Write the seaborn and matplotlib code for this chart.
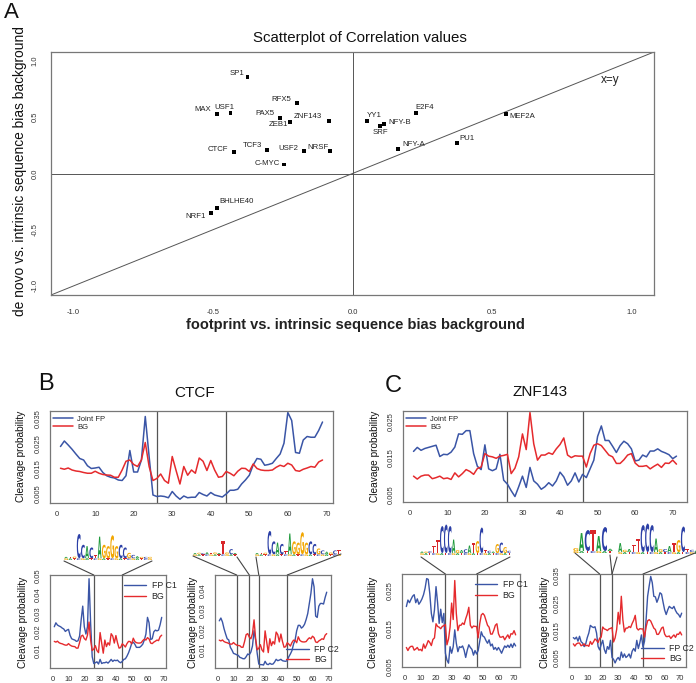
import numpy as np
import pandas as pd
import seaborn as sns
import matplotlib
matplotlib.use("Agg")
import matplotlib.pyplot as plt
import matplotlib.transforms as mtransforms
from matplotlib.textpath import TextPath
from matplotlib.patches import PathPatch
from matplotlib.font_manager import FontProperties
from matplotlib.lines import Line2D

# ---------------- data: panel A ----------------
TF_NAMES = ["SP1", "RFX5", "MAX", "USF1", "PAX5", "ZEB1", "ZNF143", "CTCF", "TCF3",
            "USF2", "NRSF", "C-MYC", "BHLHE40", "NRF1", "YY1", "SRF", "NFY-B", "E2F4",
            "NFY-A", "PU1", "MEF2A"]
FOOTPRINT_CORR = [-0.376, -0.198, -0.487, -0.437, -0.261, -0.223, -0.085, -0.424, -0.305,
                  -0.174, -0.081, -0.244, -0.487, -0.508, 0.051, 0.100, 0.114, 0.226,
                  0.162, 0.374, 0.549]
DENOVO_CORR = [0.857, 0.624, 0.529, 0.535, 0.493, 0.458, 0.467, 0.189, 0.213,
               0.200, 0.204, 0.080, -0.310, -0.350, 0.467, 0.422, 0.437, 0.535,
               0.216, 0.272, 0.529]

# ---------------- data: panels B / C ----------------
CTCF_JOINT_FP = [0.0237, 0.0259, 0.0243, 0.0226, 0.0207, 0.0189, 0.0183, 0.016, 0.0149, 0.0151,
                 0.0154, 0.0133, 0.012, 0.0114, 0.0111, 0.0103, 0.0101, 0.012, 0.0221, 0.0135,
                 0.0135, 0.0183, 0.0357, 0.0197, 0.0043, 0.0037, 0.0039, 0.0037, 0.0032, 0.0057,
                 0.0039, 0.0026, 0.0039, 0.0032, 0.0034, 0.0034, 0.0053, 0.0045, 0.0039, 0.0053,
                 0.0043, 0.0039, 0.0035, 0.0047, 0.0062, 0.0062, 0.0066, 0.0087, 0.0103, 0.0122,
                 0.0163, 0.0189, 0.0186, 0.0162, 0.0165, 0.017, 0.0189, 0.0207, 0.025, 0.0373,
                 0.0341, 0.0213, 0.021, 0.0263, 0.0277, 0.0274, 0.0274, 0.0301, 0.0335]
CTCF_BG = [0.015, 0.0146, 0.0151, 0.0143, 0.0139, 0.0137, 0.0133, 0.013, 0.013, 0.0138,
           0.013, 0.0125, 0.0123, 0.0122, 0.0114, 0.0114, 0.0143, 0.0178, 0.0183, 0.0165,
           0.0157, 0.0183, 0.0253, 0.0157, 0.0101, 0.0109, 0.0127, 0.0101, 0.009, 0.0197,
           0.0141, 0.0087, 0.0157, 0.0122, 0.0143, 0.013, 0.0191, 0.0178, 0.0141, 0.0181,
           0.0143, 0.0114, 0.0117, 0.0137, 0.013, 0.012, 0.0138, 0.015, 0.0149, 0.0137,
           0.0167, 0.0149, 0.0143, 0.0141, 0.0141, 0.0143, 0.0154, 0.0162, 0.0157, 0.017,
           0.0163, 0.0141, 0.0138, 0.0146, 0.0151, 0.0157, 0.0154, 0.0175, 0.0183]
CTCF_FP_C1 = [0.0228, 0.0249, 0.0237, 0.0232, 0.0228, 0.0221, 0.0216, 0.0203, 0.021, 0.0214,
              0.0182, 0.0164, 0.016, 0.0157, 0.015, 0.0153, 0.0178, 0.0264, 0.0338, 0.0228,
              0.0189, 0.0228, 0.0484, 0.0246, 0.0068, 0.0032, 0.0036, 0.0041, 0.0029, 0.0054,
              0.0032, 0.0036, 0.0036, 0.004, 0.0034, 0.0043, 0.0054, 0.0043, 0.005, 0.0047,
              0.005, 0.0041, 0.0036, 0.0043, 0.0054, 0.0057, 0.0071, 0.0089, 0.0112, 0.0139,
              0.0146, 0.0135, 0.0118, 0.0118, 0.0118, 0.0125, 0.0135, 0.0157, 0.0189, 0.0278,
              0.0249, 0.016, 0.0164, 0.0201, 0.021, 0.0206, 0.021, 0.0239, 0.0278]
CTCF_FP_C2 = [0.0248, 0.0262, 0.0242, 0.0208, 0.0181, 0.0157, 0.0151, 0.0114, 0.01, 0.0083,
              0.008, 0.0076, 0.0073, 0.0063, 0.006, 0.0056, 0.0056, 0.0066, 0.008, 0.0076,
              0.009, 0.012, 0.0198, 0.0151, 0.0083, 0.0029, 0.0026, 0.0026, 0.0024, 0.0043,
              0.0029, 0.0026, 0.0033, 0.0028, 0.0029, 0.0039, 0.0053, 0.0046, 0.0049, 0.0053,
              0.0046, 0.0044, 0.0043, 0.0046, 0.0066, 0.008, 0.0097, 0.013, 0.0151, 0.0198,
              0.0225, 0.0225, 0.0211, 0.0218, 0.0231, 0.0255, 0.0285, 0.0336, 0.0387, 0.0461,
              0.042, 0.0272, 0.0265, 0.0322, 0.0336, 0.0336, 0.0333, 0.0366, 0.0393]
ZNF143_JOINT_FP = [0.0168, 0.0179, 0.0171, 0.0176, 0.0179, 0.0182, 0.0185, 0.0154, 0.016, 0.0159,
                   0.0166, 0.018, 0.0216, 0.0215, 0.0225, 0.0225, 0.0162, 0.0127, 0.0118, 0.0186,
                   0.012, 0.0115, 0.012, 0.016, 0.0089, 0.0078, 0.006, 0.0044, 0.0071, 0.01,
                   0.0069, 0.0124, 0.0087, 0.0078, 0.0064, 0.0071, 0.0082, 0.0073, 0.0087, 0.0111,
                   0.0098, 0.0075, 0.0087, 0.0109, 0.0084, 0.0105, 0.0096, 0.012, 0.0144, 0.0209,
                   0.0238, 0.0198, 0.0198, 0.0182, 0.0165, 0.0184, 0.0196, 0.0189, 0.0175, 0.0142,
                   0.0144, 0.0158, 0.0153, 0.0169, 0.0169, 0.0175, 0.0168, 0.0164, 0.0159, 0.0148,
                   0.0155]
ZNF143_BG = [0.01, 0.0092, 0.01, 0.0103, 0.0103, 0.0093, 0.0096, 0.01, 0.0093, 0.0095,
             0.0091, 0.0109, 0.0098, 0.0107, 0.0118, 0.0113, 0.0105, 0.0121, 0.0125, 0.0162,
             0.0155, 0.0153, 0.0149, 0.0155, 0.0157, 0.016, 0.0107, 0.0122, 0.0153, 0.0216,
             0.0173, 0.0275, 0.0189, 0.0144, 0.0158, 0.0158, 0.0164, 0.016, 0.0175, 0.0187,
             0.0205, 0.0158, 0.0151, 0.0156, 0.0155, 0.0155, 0.0125, 0.0162, 0.0185, 0.0189,
             0.0184, 0.0171, 0.0158, 0.0153, 0.0135, 0.0135, 0.0145, 0.0158, 0.0162, 0.0136,
             0.0127, 0.0127, 0.0129, 0.012, 0.0127, 0.0133, 0.0124, 0.0136, 0.0135, 0.0144,
             0.0133]
ZNF143_FP_C1 = [0.0207, 0.0224, 0.0217, 0.0226, 0.0234, 0.0238, 0.0217, 0.0227, 0.0213, 0.0219,
                0.0227, 0.0238, 0.0255, 0.028, 0.0278, 0.0241, 0.0189, 0.0167, 0.0198, 0.0259,
                0.0217, 0.0163, 0.02, 0.0165, 0.0189, 0.0085, 0.0067, 0.0059, 0.0102, 0.0085,
                0.0102, 0.0146, 0.0111, 0.0089, 0.0102, 0.01, 0.0104, 0.0093, 0.0074, 0.0093,
                0.0107, 0.01, 0.0095, 0.008, 0.0092, 0.0083, 0.0092, 0.0116, 0.0141, 0.013,
                0.0127, 0.0118, 0.0111, 0.012, 0.0104, 0.0109, 0.0095, 0.01, 0.0093, 0.01,
                0.0093, 0.0085, 0.0095, 0.0104, 0.01, 0.0106, 0.01, 0.0109, 0.01, 0.0111,
                0.0104]
ZNF143_FP_C2 = [0.0123, 0.0118, 0.0125, 0.011, 0.0128, 0.0108, 0.0103, 0.009, 0.01, 0.0123,
                0.014, 0.0168, 0.0163, 0.016, 0.0163, 0.014, 0.009, 0.0078, 0.0098, 0.0113,
                0.008, 0.0065, 0.009, 0.008, 0.0113, 0.005, 0.0043, 0.003, 0.0043, 0.005,
                0.004, 0.007, 0.005, 0.0063, 0.005, 0.0055, 0.0063, 0.0048, 0.0073, 0.0083,
                0.0073, 0.0113, 0.0083, 0.0105, 0.0133, 0.0088, 0.011, 0.0188, 0.0275, 0.0313,
                0.0348, 0.0325, 0.0275, 0.0273, 0.0253, 0.0268, 0.0288, 0.0283, 0.0253, 0.0225,
                0.0208, 0.0225, 0.0238, 0.0233, 0.023, 0.0238, 0.0223, 0.0213, 0.0208, 0.0198,
                0.0213]

# motif boundaries (positions)
CTCF_BOUNDS = [26, 44]
CTCF_C2_BOUNDS = [12, 20, 26, 44]
ZNF143_BOUNDS = [26, 46]
ZNF143_C2_BOUNDS = [18, 26, 46]

# sequence logos: letters and information content (bits)
LOGO_CTCF_LETTERS = "ATGCCACTAGGGGCCGCAGCG"
LOGO_CTCF_BITS = [0.1, 0.1, 0.12, 1.8, 1.0, 0.9, 0.8, 0.25, 1.6, 1.0, 0.9, 1.7, 0.9, 1.0, 0.8,
                  0.4, 0.25, 0.15, 0.1, 0.1, 0.1]
LOGO_CTCF2_LETTERS = "ATGCCACTAGGGGCCGCAGCT"
LOGO_CTCF2_BITS = [0.1, 0.1, 0.12, 1.8, 1.0, 0.9, 0.8, 0.25, 1.6, 1.0, 0.9, 1.7, 0.9, 1.0, 0.8,
                   0.45, 0.3, 0.2, 0.15, 0.3, 0.3]
LOGO_UP_LETTERS = "AGCATGATGCA"
LOGO_UP_BITS = [0.1, 0.12, 0.1, 0.15, 0.1, 0.15, 0.1, 1.0, 0.15, 0.4, 0.1]
LOGO_ZNF_LETTERS = "AGCTTCCCAGACATGCTCAGCGC"
LOGO_ZNF_BITS = [0.1, 0.1, 0.12, 0.5, 0.9, 1.8, 1.9, 1.8, 0.9, 0.2, 0.2, 0.25, 0.5, 0.7, 0.8,
                 1.7, 0.2, 0.15, 0.1, 0.6, 0.7, 0.4, 0.15]
LOGO_ACTAC_LETTERS = "GACTACA"
LOGO_ACTAC_BITS = [0.2, 1.2, 1.4, 1.4, 1.0, 1.6, 0.15]
LOGO_ZNF2_LETTERS = "AGATTCCCAGCATGCTCAGCG"
LOGO_ZNF2_BITS = [0.6, 0.15, 0.2, 0.5, 0.9, 1.8, 1.9, 1.8, 0.9, 0.2, 0.2, 0.4, 0.6, 0.8, 1.7,
                  0.2, 0.15, 0.1, 0.6, 0.7, 0.4]
LOGO_SUB_LETTERS = "GATC"

# ---------------- style ----------------
W, H = 696, 683
BLUE = "#3a55a6"
RED = "#e52a2d"
FRAME = "#777777"
LOGO_COLORS = {"A": "#1f9a3c", "C": "#2b3fa6", "G": "#f2a600", "T": "#d8262a"}

sns.set_theme(style="white")
plt.rcParams["font.family"] = ["Liberation Sans", "DejaVu Sans"]

fig = plt.figure(figsize=(W / 100, H / 100), dpi=100)
fig.patch.set_facecolor("white")


def add_ax(l, t, r, b):
    return fig.add_axes([l / W, 1 - b / H, (r - l) / W, (b - t) / H])


def style_axes(ax, xpad=4, ypad=3, tl=3):
    for s in ax.spines.values():
        s.set_color(FRAME)
        s.set_linewidth(0.9)
        s.set_visible(True)
    ax.tick_params(axis="both", direction="out", length=tl, width=0.6, color="#555555",
                   labelsize=5.5, labelcolor="#333333")
    ax.tick_params(axis="x", pad=xpad)
    ax.tick_params(axis="y", pad=ypad, labelrotation=90)
    for lab in ax.get_yticklabels():
        lab.set_va("center")


def ftext(x, y, s, **kw):
    return fig.text(x / W, 1 - y / H, s, **kw)


# ---------------- Panel A ----------------
axA = add_ax(51, 52, 654, 295)
axA.set_xlim(-1.08, 1.08)
axA.set_ylim(-1.08, 1.08)
axA.axhline(0, color="#555555", lw=0.7, zorder=1)
axA.axvline(0, color="#555555", lw=0.7, zorder=1)
axA.axline((0, 0), slope=1, color="#555555", lw=0.7, zorder=1)
dfA = pd.DataFrame({"tf": TF_NAMES, "fp": FOOTPRINT_CORR, "dn": DENOVO_CORR})
sns.scatterplot(data=dfA, x="fp", y="dn", marker="s", s=8, color="black",
                edgecolor="none", ax=axA, legend=False, zorder=3)
LABEL_OFFSETS = {
    "SP1": (-11, 4), "RFX5": (-15.5, 4), "MAX": (-13.5, 4), "USF1": (-6, 6),
    "PAX5": (-14.5, 4.5), "ZEB1": (-12, -3), "ZNF143": (-21, 4.5), "CTCF": (-16, 3),
    "TCF3": (-14.5, 4), "USF2": (-15.5, 3), "NRSF": (-11.5, 3.5), "C-MYC": (-17, 1),
    "BHLHE40": (20, 6.5), "NRF1": (-15.5, -3.5), "YY1": (7.5, 5.5), "SRF": (0.5, -6.5),
    "NFY-B": (15.5, 1.5), "E2F4": (9.5, 5.5), "NFY-A": (15.5, 5), "PU1": (10.5, 4.5),
    "MEF2A": (16, -3),
}
for name, xv, yv in zip(TF_NAMES, FOOTPRINT_CORR, DENOVO_CORR):
    dx, dy = LABEL_OFFSETS[name]
    axA.annotate(name, (xv, yv), xytext=(dx, dy), textcoords="offset pixels",
                 ha="center", va="center", fontsize=5.6, color="#222222", zorder=4)
axA.text(0.927, 0.885, "x=y", fontsize=8.5, color="#222222", ha="center", va="center",
         transform=axA.transAxes)
axA.set_xticks([-1.0, -0.5, 0.0, 0.5, 1.0])
axA.set_xticklabels(["-1.0", "-0.5", "0.0", "0.5", "1.0"])
axA.set_yticks([-1.0, -0.5, 0.0, 0.5, 1.0])
axA.set_yticklabels(["-1.0", "-0.5", "0.0", "0.5", "1.0"])
axA.set_xlabel("")
axA.set_ylabel("")
style_axes(axA, xpad=6, ypad=5, tl=4)

ftext(4, 2, "A", fontsize=16, va="top", ha="left", color="#111111")
ftext(360, 38, "Scatterplot of Correlation values", fontsize=10.8, ha="center", va="center",
      color="#111111")
ftext(20, 171, "de novo vs. intrinsic sequence bias background", fontsize=9.9,
      rotation=90, ha="center", va="center", color="#111111")
ftext(355, 325, "footprint vs. intrinsic sequence bias background", fontsize=10.5,
      weight="bold", ha="center", va="center", color="#222222")


# ---------------- line panels ----------------
def line_panel(rect, fp, bg, fp_label, bounds, ylim, major, labeled, legend_loc,
               ylabel_xy, legend_anchor, fs_leg=5.5, lw=1.1):
    ax = add_ax(*rect)
    pos = np.arange(1, len(fp) + 1)
    df = pd.DataFrame({"pos": np.concatenate([pos, pos]),
                       "prob": np.concatenate([fp, bg]),
                       "series": [fp_label] * len(fp) + ["BG"] * len(bg)})
    sns.lineplot(data=df, x="pos", y="prob", hue="series",
                 palette={fp_label: BLUE, "BG": RED}, ax=ax, lw=lw, legend=False)
    n = len(fp)
    pad = (n - 1) * 0.04
    ax.set_xlim(1 - pad, n + pad)
    ax.set_ylim(*ylim)
    for b in bounds:
        ax.axvline(b, color="#555555", lw=0.9, zorder=0)
    ax.set_xticks(np.arange(0, 71, 10))
    ax.set_yticks(major)
    ax.set_yticklabels([f"{v:.3f}".rstrip("0") if v in labeled else "" for v in major])
    ax.set_xlabel("")
    ax.set_ylabel("")
    style_axes(ax, xpad=3, ypad=3, tl=3)
    handles = [Line2D([], [], color=BLUE, lw=lw), Line2D([], [], color=RED, lw=lw)]
    ax.legend(handles, [fp_label, "BG"], loc=legend_loc, bbox_to_anchor=legend_anchor,
              frameon=False, fontsize=fs_leg, handlelength=2.6, handletextpad=0.6,
              labelspacing=0.15, borderaxespad=0.0, borderpad=0.2)
    ftext(ylabel_xy[0], ylabel_xy[1], "Cleavage probability", rotation=90,
          ha="center", va="center", fontsize=7.3, color="#111111")
    return ax


def fmt_list(vals):
    return [round(v, 3) for v in vals]


axB = line_panel((50, 411, 333, 503), CTCF_JOINT_FP, CTCF_BG, "Joint FP", CTCF_BOUNDS,
                 (0.0011, 0.0379), fmt_list(np.arange(0.005, 0.0351, 0.005)),
                 [0.005, 0.015, 0.025, 0.035], "upper left", (21, 456), (0.005, 0.97))
axC = line_panel((403, 411, 687, 502), ZNF143_JOINT_FP, ZNF143_BG, "Joint FP", ZNF143_BOUNDS,
                 (0.0029, 0.0279), fmt_list(np.arange(0.005, 0.0251, 0.005)),
                 [0.005, 0.015, 0.025], "upper left", (375, 456), (0.005, 0.97))
axB1 = line_panel((50, 575, 166, 668), CTCF_FP_C1, CTCF_BG, "FP C1", CTCF_BOUNDS,
                  (0.0008, 0.0504), fmt_list(np.arange(0.01, 0.051, 0.01)),
                  [0.01, 0.02, 0.03, 0.04, 0.05], "upper left", (23, 622), (0.62, 0.95),
                  fs_leg=6.3, lw=1.0)
axB2 = line_panel((215, 575, 331, 668), CTCF_FP_C2, CTCF_BG, "FP C2", CTCF_C2_BOUNDS,
                  (0.0009, 0.048), fmt_list(np.arange(0.01, 0.041, 0.01)),
                  [0.01, 0.02, 0.03, 0.04], "lower left", (193, 622), (0.6, 0.02),
                  fs_leg=6.3, lw=1.0)
axC1 = line_panel((402, 574, 520, 667), ZNF143_FP_C1, ZNF143_BG, "FP C1", ZNF143_BOUNDS,
                  (0.0049, 0.0292), fmt_list(np.arange(0.005, 0.0251, 0.005)),
                  [0.005, 0.015, 0.025], "upper left", (373, 622), (0.6, 0.95),
                  fs_leg=6.3, lw=1.0)
axC2 = line_panel((569, 574, 686, 667), ZNF143_FP_C2, ZNF143_BG, "FP C2", ZNF143_C2_BOUNDS,
                  (0.0015, 0.0357), fmt_list(np.arange(0.005, 0.0351, 0.005)),
                  [0.005, 0.015, 0.025, 0.035], "lower left", (545, 622), (0.6, 0.02),
                  fs_leg=6.3, lw=1.0)

ftext(46, 384, "B", fontsize=17, ha="center", va="center", color="#111111")
ftext(393, 386, "C", fontsize=17, ha="center", va="center", color="#111111")
ftext(195, 393, "CTCF", fontsize=11, ha="center", va="center", color="#111111")
ftext(540, 392, "ZNF143", fontsize=11, ha="center", va="center", color="#111111")

# ---------------- sequence logos ----------------
LOGO_FONT = FontProperties(family="DejaVu Sans", weight="bold")


def draw_letter(ch, x0, base, w, h, color):
    if h < 0.3:
        return
    tp = TextPath((0, 0), ch, size=1, prop=LOGO_FONT)
    bb = tp.get_extents()
    tr = (mtransforms.Affine2D().translate(-bb.x0, -bb.y0)
          .scale(w / bb.width, h / bb.height)
          .translate(x0, H - base)
          .scale(1 / W, 1 / H))
    patch = PathPatch(tr.transform_path(tp), fc=color, ec="none",
                      transform=fig.transFigure)
    fig.add_artist(patch)


def draw_logo(letters, bits, x_left, x_right, base, px_per_bit):
    n = len(letters)
    cw = (x_right - x_left) / n
    for i, (ch, b) in enumerate(zip(letters, bits)):
        x0 = x_left + i * cw + cw * 0.05
        sub = LOGO_SUB_LETTERS[i % 4]
        sub_h = 0.13 * px_per_bit
        draw_letter(sub, x0, base, cw * 0.9, sub_h, LOGO_COLORS[sub])
        draw_letter(ch, x0, base - sub_h, cw * 0.9, b * px_per_bit, LOGO_COLORS[ch])


def vline_top(ax, xv):
    disp = ax.transData.transform((xv, ax.get_ylim()[1]))
    return fig.transFigure.inverted().transform(disp)


def connect(p_px, ax, xv):
    x1, y1 = vline_top(ax, xv)
    fig.add_artist(Line2D([p_px[0] / W, x1], [1 - p_px[1] / H, y1],
                          color="#444444", lw=0.8, transform=fig.transFigure))


draw_logo(LOGO_CTCF_LETTERS, LOGO_CTCF_BITS, 64, 152, 560, 13.5)
connect((64, 561), axB1, CTCF_BOUNDS[0])
connect((152, 561), axB1, CTCF_BOUNDS[1])

draw_logo(LOGO_UP_LETTERS, LOGO_UP_BITS, 193, 237, 556, 13)
draw_logo(LOGO_CTCF2_LETTERS, LOGO_CTCF2_BITS, 255, 341, 556, 13)
connect((193, 556), axB2, CTCF_C2_BOUNDS[0])
connect((237, 557), axB2, CTCF_C2_BOUNDS[1])
connect((256, 557), axB2, CTCF_C2_BOUNDS[2])
connect((341, 554), axB2, CTCF_C2_BOUNDS[3])

draw_logo(LOGO_ZNF_LETTERS, LOGO_ZNF_BITS, 420, 511, 555, 15)
connect((421, 557), axC1, ZNF143_BOUNDS[0])
connect((510, 557), axC1, ZNF143_BOUNDS[1])

draw_logo(LOGO_ACTAC_LETTERS, LOGO_ACTAC_BITS, 573, 613, 553, 15)
draw_logo(LOGO_ZNF2_LETTERS, LOGO_ZNF2_BITS, 618, 712, 554, 15)
connect((575, 553), axC2, ZNF143_C2_BOUNDS[0])
connect((610, 555), axC2, ZNF143_C2_BOUNDS[1])
connect((617, 557), axC2, ZNF143_C2_BOUNDS[1])
connect((700, 551), axC2, ZNF143_C2_BOUNDS[2])

fig.savefig("out.png", dpi=100, facecolor="white")
